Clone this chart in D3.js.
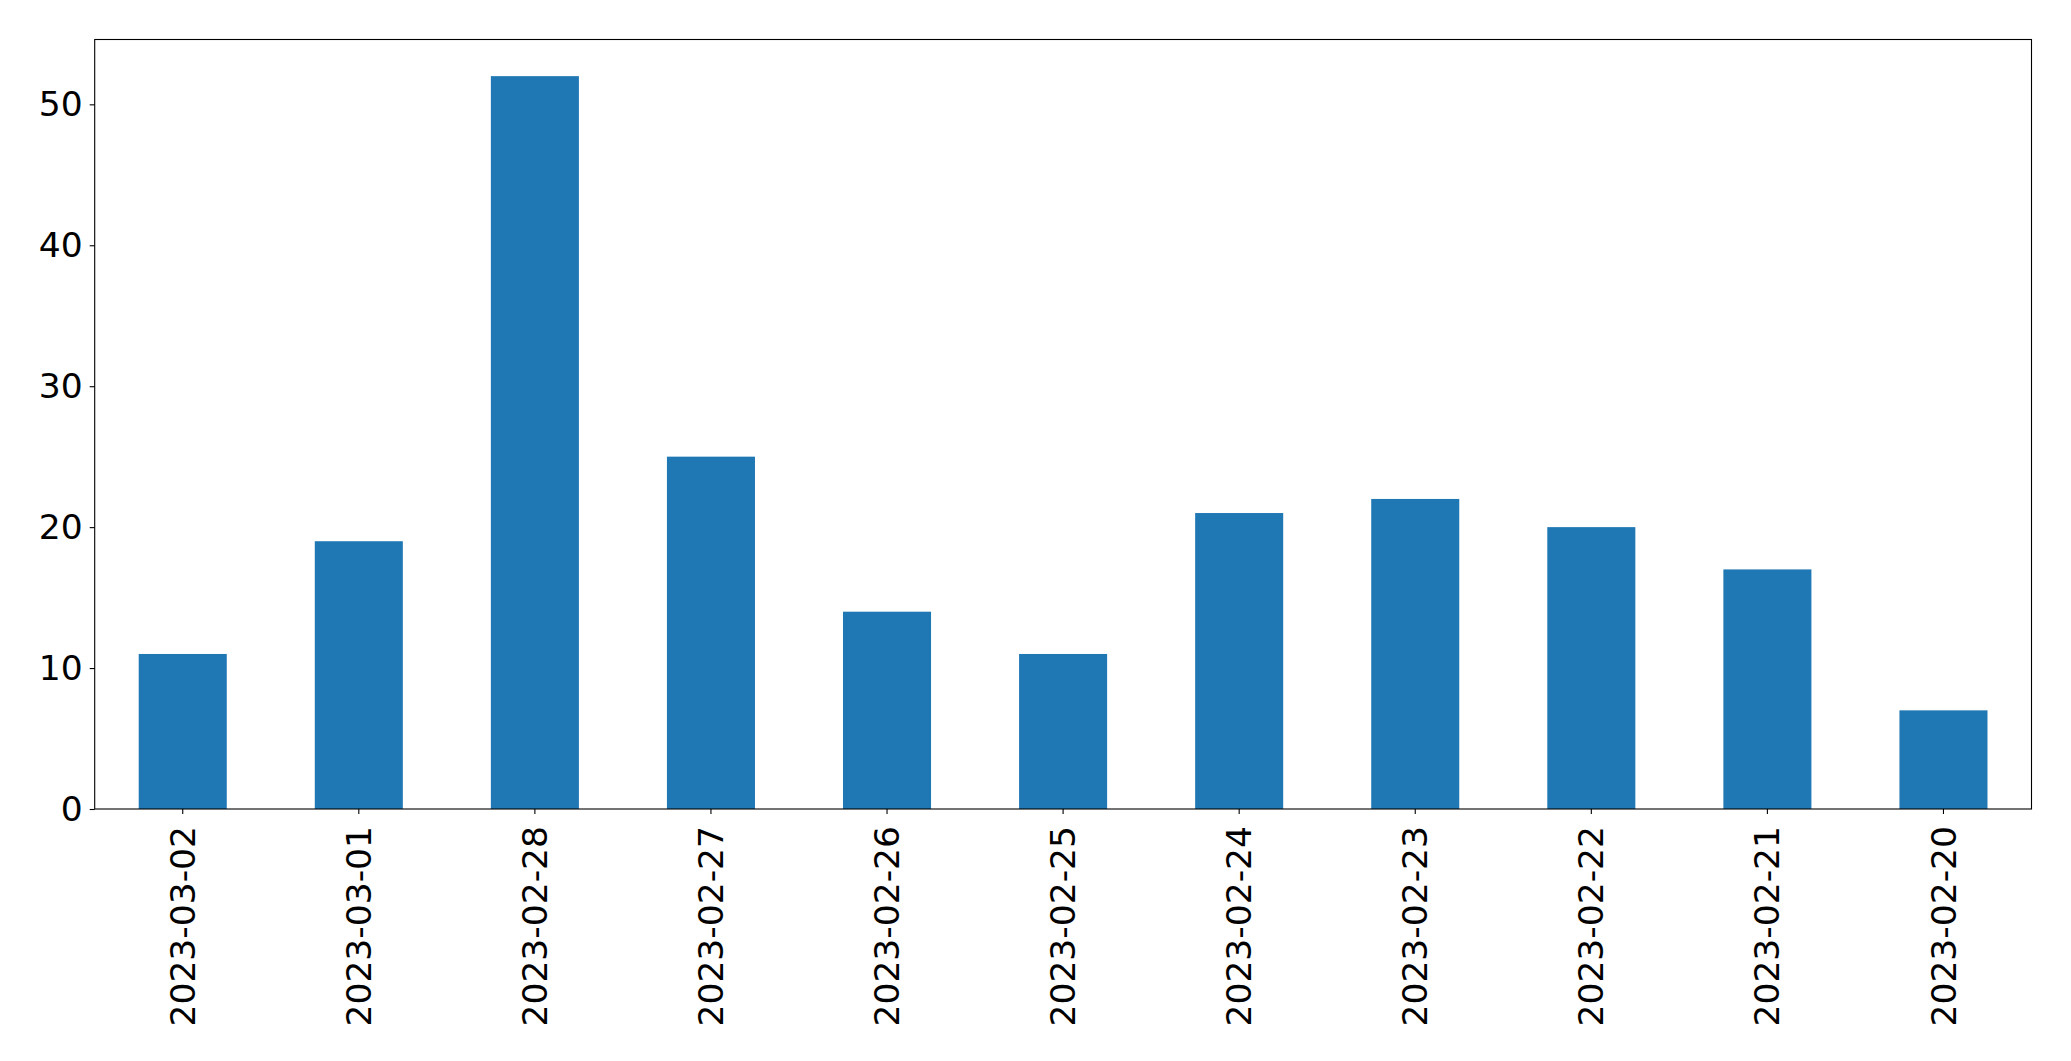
<!DOCTYPE html>
<html>
<head>
<meta charset="utf-8">
<script src="https://cdn.jsdelivr.net/npm/d3@7"></script>
<style>
  html, body { margin: 0; padding: 0; background: #fff; }
  svg { display: block; }
</style>
</head>
<body>
<script>
// data
var dates = ['2023-03-02', '2023-03-01', '2023-02-28', '2023-02-27', '2023-02-26', '2023-02-25',
             '2023-02-24', '2023-02-23', '2023-02-22', '2023-02-21', '2023-02-20'];
var counts = [11, 19, 52, 25, 14, 11, 21, 22, 20, 17, 7];
var yTicks = [0, 10, 20, 30, 40, 50];

var width = 2071, height = 1061;
var margin = { left: 94.7, right: 2031.5, top: 39.5, bottom: 809 };

var svg = d3.select('body').append('svg')
    .attr('width', width)
    .attr('height', height);

// x 比例尺，柱宽为步长的一半
var x = d3.scaleBand()
    .domain(dates)
    .range([margin.left, margin.right])
    .paddingInner(0.5)
    .paddingOuter(0.25);

var y = d3.scaleLinear()
    .domain([0, d3.max(counts) * 1.05])
    .range([margin.bottom, margin.top]);

// 柱子
svg.append('g')
    .selectAll('rect')
    .data(counts)
    .enter()
    .append('rect')
    .attr('x', (d, i) => x(dates[i]))
    .attr('y', d => y(d))
    .attr('width', x.bandwidth())
    .attr('height', d => y(0) - y(d))
    .attr('fill', '#1f77b4');

var font = 'DejaVu Sans, sans-serif';
var fontSize = 34.5;

// y 轴
var yAxis = svg.append('g')
    .attr('transform', `translate(${margin.left},0)`)
    .call(d3.axisLeft(y).tickValues(yTicks).tickSize(5).tickPadding(7).tickFormat(d3.format('d')));
yAxis.select('.domain').remove();
yAxis.selectAll('line').attr('stroke', '#000').attr('stroke-width', 1.1);
yAxis.selectAll('text')
    .attr('font-family', font)
    .attr('font-size', fontSize)
    .attr('fill', '#000');

// x 轴
var xAxis = svg.append('g')
    .attr('transform', `translate(0,${margin.bottom})`)
    .call(d3.axisBottom(x).tickSize(5).tickPadding(0));
xAxis.select('.domain').remove();
xAxis.selectAll('line').attr('stroke', '#000').attr('stroke-width', 1.1);
xAxis.selectAll('text')
    .attr('font-family', font)
    .attr('font-size', fontSize)
    .attr('fill', '#000')
    .attr('transform', 'translate(0,17) rotate(-90)')
    .attr('x', 0)
    .attr('y', 0)
    .attr('dy', '0.35em')
    .attr('text-anchor', 'end');

// 边框
svg.append('rect')
    .attr('x', margin.left)
    .attr('y', margin.top)
    .attr('width', margin.right - margin.left)
    .attr('height', margin.bottom - margin.top)
    .attr('fill', 'none')
    .attr('stroke', '#000')
    .attr('stroke-width', 1.1);
</script>
</body>
</html>
